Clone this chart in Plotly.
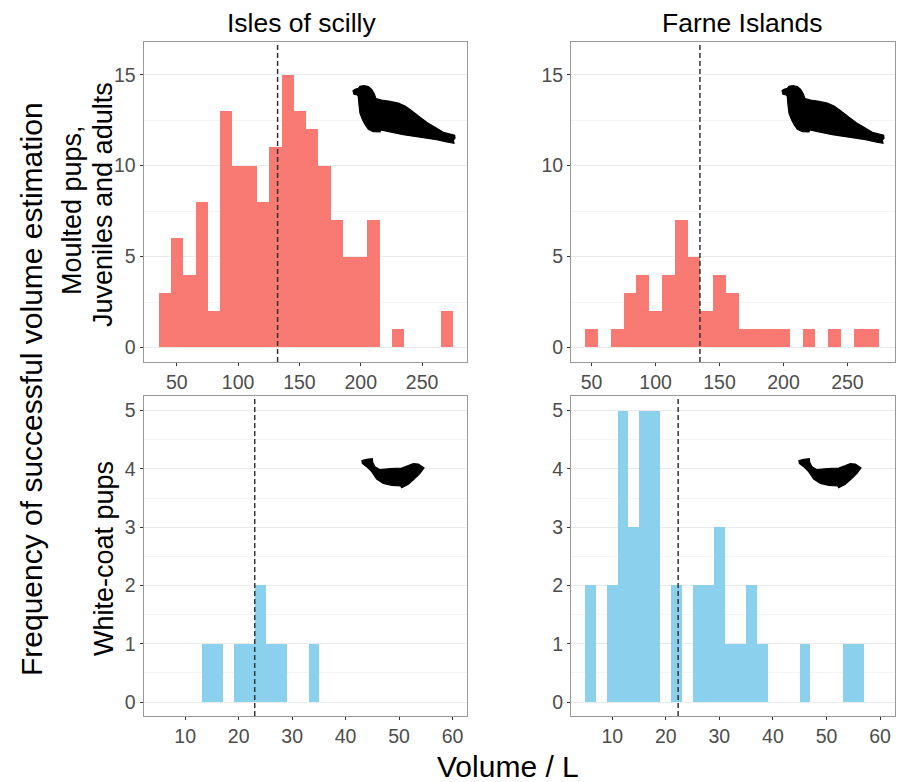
import plotly.graph_objects as go

W, H = 899, 782

# ---- data ----
adult_bins = [40, 50, 60, 70, 80, 90, 100, 110, 120, 130, 140, 150, 160, 170, 180, 190, 200, 210, 220, 230, 240, 250, 260, 270]
scilly_adult = [3, 6, 4, 8, 2, 13, 10, 10, 8, 11, 15, 13, 12, 10, 7, 5, 5, 7, 0, 1, 0, 0, 0, 2]
farne_adult = [0, 1, 0, 1, 3, 4, 2, 4, 7, 5, 2, 4, 3, 1, 1, 1, 1, 0, 1, 0, 1, 0, 1, 1]

pup_bins = [6, 8, 10, 12, 14, 16, 18, 20, 22, 24, 26, 28, 30, 32, 34, 36, 38, 40, 42, 44, 46, 48, 50, 52, 54, 56]
scilly_pup = [0, 0, 0, 0, 1, 1, 0, 1, 1, 2, 1, 1, 0, 0, 1, 0, 0, 0, 0, 0, 0, 0, 0, 0, 0, 0]
farne_pup = [2, 0, 2, 5, 3, 5, 5, 0, 2, 0, 2, 2, 3, 1, 1, 2, 1, 0, 0, 0, 1, 0, 0, 0, 1, 1]

mean_lines = [132.2, 134.7, 23.0, 22.3]
column_titles = ["Isles of scilly", "Farne Islands"]
adult_ticks = [0, 5, 10, 15]
pup_ticks = [0, 1, 2, 3, 4, 5]
adult_xticks = [50, 100, 150, 200, 250]
pup_xticks = [10, 20, 30, 40, 50, 60]

# ---- decorative silhouettes (page pixels) ----
BIG_SEAL = [(39,62),(45,58),(55,55),(60,49),(72,47),(85,50),(95,58),(103,72),(108,86),(125,90),(150,94),(175,99),
            (195,108),(215,122),(240,142),(262,158),(285,172),(310,187),(344,196),(345,205),(340,210),(342,220),
            (320,216),(290,209),(270,206),(230,200),(190,194),(150,186),(122,180),(120,186),(100,185),(85,178),
            (76,165),(68,150),(60,130),(57,105),(55,80),(52,75),(42,73)]
SMALL_SEAL = [(36,47),(50,43),(67,41),(68,52),(75,65),(90,74),(120,71),(155,69),(175,62),(190,56),(205,57),(222,69),
              (210,85),(195,100),(175,118),(155,128),(152,123),(125,121),(100,115),(80,102),(65,80),(50,65),(37,55)]

def px(x): return x / W
def py(y): return 1 - y / H

def seal_path(points, ox, oy):
    parts = [f"{px(ox + a / 3):.5f},{py(oy + b / 3):.5f}" for a, b in points]
    return "M" + "L".join(parts) + "Z"

FONT = "Liberation Sans"
panels = [
    dict(bins=adult_bins, y=scilly_adult, c="#F8766D", box=(143.5, 467, 42, 362), xr=[22.9, 286.6], yr=[-0.8, 16.8], xt=adult_xticks, yt=adult_ticks, minor=2.5, w=10),
    dict(bins=adult_bins, y=farne_adult, c="#F8766D", box=(571, 894.5, 42, 362), xr=[33.9, 286.8], yr=[-0.8, 16.8], xt=adult_xticks, yt=adult_ticks, minor=2.5, w=10),
    dict(bins=pup_bins, y=scilly_pup, c="#87CEEB", box=(143.5, 467, 396, 716), xr=[2.2, 62.7], yr=[-0.24, 5.25], xt=pup_xticks, yt=pup_ticks, minor=0.5, w=2),
    dict(bins=pup_bins, y=farne_pup, c="#87CEEB", box=(571, 894.5, 396, 716), xr=[2.3, 62.7], yr=[-0.24, 5.25], xt=pup_xticks, yt=pup_ticks, minor=0.5, w=2),
]

fig = go.Figure()
layout = {}
for i, p in enumerate(panels, 1):
    sfx = "" if i == 1 else str(i)
    xs = [b for b, v in zip(p["bins"], p["y"]) if v > 0]
    ys = [v for v in p["y"] if v > 0]
    fig.add_trace(go.Bar(x=xs, y=ys, width=p["w"], xaxis=f"x{sfx}", yaxis=f"y{sfx}",
                         marker=dict(color=p["c"], opacity=0.97, line=dict(width=0)),
                         showlegend=False))
    l, r, t, b = p["box"]
    layout[f"xaxis{sfx}"] = dict(domain=[px(l), px(r)], range=p["xr"], anchor=f"y{sfx}", tickvals=p["xt"],
                                 showgrid=False, zeroline=False, showline=True, mirror=True, linecolor="#999999",
                                 linewidth=1, ticks="outside", ticklen=3, tickcolor="#333333", tickwidth=1,
                                 tickfont=dict(family=FONT, size=19.5, color="#4D4D4D"))
    layout[f"yaxis{sfx}"] = dict(domain=[py(b), py(t)], range=p["yr"], anchor=f"x{sfx}", tickvals=p["yt"],
                                 showgrid=True, gridcolor="#EBEBEB", gridwidth=1.2, zeroline=False, showline=True,
                                 mirror=True, linecolor="#999999", linewidth=1, ticks="outside", ticklen=3,
                                 tickcolor="#333333", tickwidth=1,
                                 tickfont=dict(family=FONT, size=19.5, color="#4D4D4D"),
                                 minor=dict(dtick=p["minor"], tick0=0, showgrid=True, gridcolor="#F4F4F4", gridwidth=1, ticks=""))

shapes = []
for i, m in enumerate(mean_lines, 1):
    sfx = "" if i == 1 else str(i)
    shapes.append(dict(type="line", xref=f"x{sfx}", yref=f"y{sfx} domain", x0=m, x1=m, y0=0, y1=1,
                       line=dict(color="#333333", width=1.5, dash="5px,3px")))
seal_style = dict(type="path", xref="paper", yref="paper", fillcolor="black", line=dict(color="black", width=1.2))
shapes.append(dict(path=seal_path(BIG_SEAL, 340, 70), **seal_style))
shapes.append(dict(path=seal_path(BIG_SEAL, 769, 70), **seal_style))
shapes.append(dict(path=seal_path(SMALL_SEAL, 350, 445), **seal_style))
shapes.append(dict(path=seal_path(SMALL_SEAL, 787, 445), **seal_style))

def note(text, x, y, size, rot=0):
    return dict(text=text, x=px(x), y=py(y), xref="paper", yref="paper", showarrow=False, textangle=rot,
                xanchor="center", yanchor="middle", font=dict(family=FONT, size=size, color="black"))

annotations = [
    note(column_titles[0], 301, 23, 26.5),
    note(column_titles[1], 742, 23, 26.5),
    note("Frequency of successful volume estimation", 31, 389, 30, -90),
    note("Moulted pups,", 72, 210, 27, -90),
    note("Juveniles and adults", 103, 205, 27, -90),
    note("White-coat pups", 104, 559, 27, -90),
    note("Volume / L", 508, 766, 30),
]

fig.update_layout(width=W, height=H, margin=dict(l=0, r=0, t=0, b=0), paper_bgcolor="white", plot_bgcolor="white",
                  bargap=0, shapes=shapes, annotations=annotations, **layout)
fig.write_html("out.html", post_script="document.body.style.margin='0';", config=dict(displayModeBar=False))
